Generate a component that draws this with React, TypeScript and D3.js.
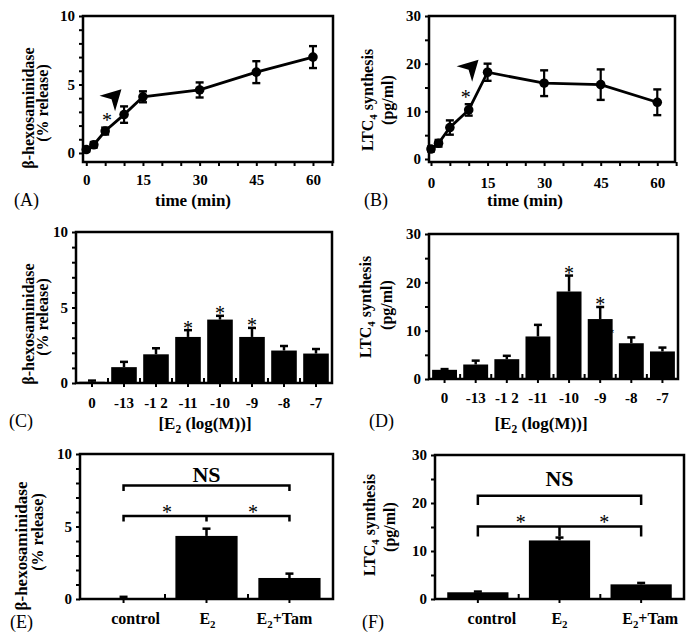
import React, { useEffect, useRef } from "react";
import * as d3 from "d3";

// (A)/(B) time course
const minutes = [0, 2, 5, 10, 15, 30, 45, 60];
const timeLabels = [0, 15, 30, 45, 60];
const hexTime = [0.25, 0.6, 1.6, 2.8, 4.1, 4.6, 5.9, 7.0];
const hexTimeErr = [0.15, 0.2, 0.25, 0.6, 0.4, 0.55, 0.8, 0.8];
const ltcTime = [2.1, 3.3, 6.6, 10.3, 18.2, 15.9, 15.6, 11.9];
const ltcTimeErr = [0.5, 0.7, 1.5, 1.2, 1.8, 2.7, 3.2, 2.7];

// (C)/(D) dose response, log(M)
const doses = ["0", "-13", "-1 2", "-11", "-10", "-9", "-8", "-7"];
const hexDose = [0.08, 1.05, 1.9, 3.05, 4.2, 3.05, 2.15, 1.95];
const hexDoseErr = [0.08, 0.35, 0.4, 0.45, 0.25, 0.6, 0.3, 0.3];
const hexDoseStars = ["-11", "-10", "-9"];
const ltcDose = [1.9, 3.0, 4.1, 8.8, 18.1, 12.4, 7.4, 5.7];
const ltcDoseErr = [0.15, 0.8, 0.7, 2.4, 3.3, 2.5, 1.2, 0.8];
const ltcDoseStars = ["-10", "-9"];

// (E)/(F) tamoxifen
const treatments = ["control", "E2", "E2+Tam"];
const hexTreat = [0.03, 4.35, 1.45];
const hexTreatErr = [0.12, 0.5, 0.3];
const ltcTreat = [1.4, 12.2, 3.05];
const ltcTreatErr = [0.15, 0.6, 0.3];

const FONT = "'Liberation Serif', 'Times New Roman', Times, serif";

type Part = { t: string; sub?: boolean };

function label(g, x, y, parts: Part[], size, opts: any = {}) {
  const rot = !!opts.rotate;
  const tx = rot ? x + size * 0.35 : x;
  const ty = rot ? y : y + size * 0.35;
  const t = g
    .append("text")
    .attr("transform", `translate(${tx},${ty})` + (rot ? " rotate(-90)" : ""))
    .attr("text-anchor", opts.anchor || "middle")
    .attr("font-family", FONT)
    .attr("font-size", size)
    .attr("font-weight", opts.bold === false ? "normal" : "bold")
    .attr("fill", "#000");
  let wasSub = false;
  parts.forEach((p) => {
    const s = t.append("tspan").text(p.t);
    if (p.sub) {
      s.attr("font-size", size * 0.68).attr("dy", size * 0.25);
      wasSub = true;
    } else if (wasSub) {
      s.attr("dy", -size * 0.25);
      wasSub = false;
    }
  });
  return t;
}

function star(g, x, cy, size = 20) {
  g.append("text")
    .attr("x", x)
    .attr("y", cy + size * 0.47)
    .attr("text-anchor", "middle")
    .attr("font-family", FONT)
    .attr("font-size", size)
    .attr("fill", "#000")
    .text("*");
}

function styleAxis(ax, size = 15) {
  ax.select(".domain").remove();
  ax.selectAll("line").attr("stroke", "#000").attr("stroke-width", 2);
  ax.selectAll("text")
    .attr("font-family", FONT)
    .attr("font-weight", "bold")
    .attr("font-size", size)
    .attr("fill", "#000");
}

function yAxis(g, y, x0, minor, major) {
  const top = y.domain()[1];
  const ticks = d3.range(0, top + 1e-6, minor);
  const ax = g
    .append("g")
    .attr("transform", `translate(${x0},0)`)
    .call(
      d3
        .axisLeft(y)
        .tickValues(ticks)
        .tickSize(4)
        .tickPadding(4)
        .tickFormat((d) => (Math.round(d) % major === 0 ? String(d) : ""))
    );
  styleAxis(ax);
}

function frame(g, b) {
  g.append("rect")
    .attr("x", b.x0)
    .attr("y", b.y0)
    .attr("width", b.x1 - b.x0)
    .attr("height", b.y1 - b.y0)
    .attr("fill", "none")
    .attr("stroke", "#000")
    .attr("stroke-width", 2.5);
}

function drawTime(svg, b, xDom, yDom, vals, errs, minor, major, pad, note) {
  const g = svg.append("g");
  const x = d3.scaleLinear().domain(xDom).range([b.x0, b.x1]);
  const y = d3.scaleLinear().domain(yDom).range([b.y1, b.y0]);

  const xa = g
    .append("g")
    .attr("transform", `translate(0,${b.y1})`)
    .call(
      d3
        .axisBottom(x)
        .tickValues(d3.range(0, 66, 5))
        .tickSize(4)
        .tickPadding(pad)
        .tickFormat((d) => (timeLabels.includes(d) ? String(d) : ""))
    );
  styleAxis(xa);
  yAxis(g, y, b.x0, minor, major);

  minutes.forEach((m, i) => {
    const cx = x(m);
    g.append("line")
      .attr("x1", cx).attr("x2", cx)
      .attr("y1", y(vals[i] - errs[i])).attr("y2", y(vals[i] + errs[i]))
      .attr("stroke", "#000").attr("stroke-width", 2.2);
    [vals[i] - errs[i], vals[i] + errs[i]].forEach((v) => {
      g.append("line")
        .attr("x1", cx - 4).attr("x2", cx + 4)
        .attr("y1", y(v)).attr("y2", y(v))
        .attr("stroke", "#000").attr("stroke-width", 2.4);
    });
  });

  const line = d3
    .line<number>()
    .x((d, i) => x(minutes[i]))
    .y((d) => y(d));
  g.append("path")
    .attr("d", line(vals))
    .attr("fill", "none")
    .attr("stroke", "#000")
    .attr("stroke-width", 2.8);
  g.selectAll("circle")
    .data(vals)
    .enter()
    .append("circle")
    .attr("cx", (d, i) => x(minutes[i]))
    .attr("cy", (d) => y(d))
    .attr("r", 4.8)
    .attr("fill", "#000");

  star(g, x(note.star[0]), y(note.star[1]));
  // arrowhead pointing to the up-right
  g.append("path")
    .attr("d", "M0,0 L-20,-11 L-14,0 L-20,11 Z")
    .attr("transform", `translate(${x(note.arrow[0])},${y(note.arrow[1])}) rotate(-45)`)
    .attr("fill", "#000");

  frame(g, b);
  return g;
}

function drawBars(svg, b, cats, vals, errs, yTop, minor, major, pad, pi, po, showLabels) {
  const g = svg.append("g");
  const x = d3.scaleBand().domain(cats).range([b.x0, b.x1]).paddingInner(pi).paddingOuter(po);
  const y = d3.scaleLinear().domain([0, yTop]).range([b.y1, b.y0]);
  const cx = (c) => (x(c) as number) + x.bandwidth() / 2;

  g.selectAll("rect.bar")
    .data(cats)
    .enter()
    .append("rect")
    .attr("x", (d) => x(d))
    .attr("y", (d, i) => y(vals[i]))
    .attr("width", x.bandwidth())
    .attr("height", (d, i) => b.y1 - y(vals[i]))
    .attr("fill", "#000");

  cats.forEach((c, i) => {
    g.append("line")
      .attr("x1", cx(c)).attr("x2", cx(c))
      .attr("y1", y(vals[i])).attr("y2", y(vals[i] + errs[i]))
      .attr("stroke", "#000").attr("stroke-width", 2.5);
    g.append("line")
      .attr("x1", cx(c) - 4).attr("x2", cx(c) + 4)
      .attr("y1", y(vals[i] + errs[i])).attr("y2", y(vals[i] + errs[i]))
      .attr("stroke", "#000").attr("stroke-width", 2.5);
    if (i < cats.length - 1) {
      const bx = (x(c) as number) + x.bandwidth() + (x.step() - x.bandwidth()) / 2;
      g.append("line")
        .attr("x1", bx).attr("x2", bx)
        .attr("y1", b.y1).attr("y2", b.y1 - 5)
        .attr("stroke", "#000").attr("stroke-width", 2);
    }
  });

  const xa = g
    .append("g")
    .attr("transform", `translate(0,${b.y1})`)
    .call(
      d3
        .axisBottom(x)
        .tickSize(4)
        .tickPadding(pad)
        .tickFormat((d) => (showLabels ? d : ""))
    );
  styleAxis(xa);
  yAxis(g, y, b.x0, minor, major);
  frame(g, b);
  return { g, x, y, cx };
}

function treatParts(c) {
  if (c === "control") return [{ t: "control" }];
  if (c === "E2") return [{ t: "E" }, { t: "2", sub: true }];
  return [{ t: "E" }, { t: "2", sub: true }, { t: "+Tam" }];
}

function draw(svg) {
  // (A)
  const gA = drawTime(
    svg,
    { x0: 83, y0: 16, x1: 333, y1: 162 },
    [-0.87, 65.3],
    [-0.66, 10],
    hexTime,
    hexTimeErr,
    1,
    5,
    8,
    { star: [5.5, 2.55], arrow: [9.3, 4.65] }
  );
  label(gA, 28, 108, [{ t: "\u03b2-hexosaminidase" }], 16, { rotate: true });
  label(gA, 42, 103, [{ t: "(%  release)" }], 16, { rotate: true });
  label(gA, 193, 200, [{ t: "time (min)" }], 17);
  label(gA, 14, 200, [{ t: "(A)" }], 18, { anchor: "start", bold: false });

  // (B)
  const gB = drawTime(
    svg,
    { x0: 429, y0: 16, x1: 675, y1: 162 },
    [-0.53, 64.7],
    [-0.63, 30],
    ltcTime,
    ltcTimeErr,
    5,
    10,
    11,
    { star: [9.2, 13.5], arrow: [12.6, 20.8] }
  );
  label(gB, 367, 100, [{ t: "LTC" }, { t: "4", sub: true }, { t: " synthesis" }], 16, { rotate: true });
  label(gB, 387, 100, [{ t: "(pg/ml)" }], 16, { rotate: true });
  label(gB, 525, 200, [{ t: "time (min)" }], 17);
  label(gB, 364, 200, [{ t: "(B)" }], 18, { anchor: "start", bold: false });

  // (C)
  const pC = drawBars(svg, { x0: 76, y0: 232, x1: 332, y1: 383 }, doses, hexDose, hexDoseErr, 10, 1, 5, 10, 0.2, 0.1, true);
  hexDoseStars.forEach((d) => {
    const i = doses.indexOf(d);
    star(pC.g, pC.cx(d), pC.y(hexDose[i] + hexDoseErr[i]) - 5);
  });
  label(pC.g, 28, 324, [{ t: "\u03b2-hexosaminidase" }], 16, { rotate: true });
  label(pC.g, 42, 317, [{ t: "(%  release)" }], 16, { rotate: true });
  label(pC.g, 205, 423, [{ t: "[E" }, { t: "2", sub: true }, { t: " (log(M))]" }], 17);
  label(pC.g, 9, 421, [{ t: "(C)" }], 18, { anchor: "start", bold: false });

  // (D)
  const pD = drawBars(svg, { x0: 429, y0: 234, x1: 678, y1: 379 }, doses, ltcDose, ltcDoseErr, 30, 5, 10, 9, 0.2, 0.1, true);
  ltcDoseStars.forEach((d) => {
    const i = doses.indexOf(d);
    star(pD.g, pD.cx(d), pD.y(ltcDose[i] + ltcDoseErr[i]) - 5);
  });
  star(pD.g, pD.cx("-9") + 11, pD.y(9.8), 12);
  label(pD.g, 365, 307, [{ t: "LTC" }, { t: "4", sub: true }, { t: " synthesis" }], 16, { rotate: true });
  label(pD.g, 386, 305, [{ t: "(pg/ml)" }], 16, { rotate: true });
  label(pD.g, 541, 423, [{ t: "[E" }, { t: "2", sub: true }, { t: " (log(M))]" }], 17);
  label(pD.g, 369, 421, [{ t: "(D)" }], 18, { anchor: "start", bold: false });

  // (E)
  const pE = drawBars(svg, { x0: 80, y0: 454, x1: 333, y1: 599 }, treatments, hexTreat, hexTreatErr, 10, 1, 5, 14, 0.25, 0.15, false);
  const shiftE = [12, 1, -5];
  treatments.forEach((c, i) => label(pE.g, pE.cx(c) + shiftE[i], 618, treatParts(c), 16));
  const [c0, c1, c2] = treatments.map(pE.cx);
  const bracketE = d3.path();
  bracketE.moveTo(c0, pE.y(7.45));
  bracketE.lineTo(c0, pE.y(7.82));
  bracketE.lineTo(c2, pE.y(7.82));
  bracketE.lineTo(c2, pE.y(7.45));
  bracketE.moveTo(c0, pE.y(5.35));
  bracketE.lineTo(c0, pE.y(5.72));
  bracketE.lineTo(c2, pE.y(5.72));
  bracketE.lineTo(c2, pE.y(5.35));
  bracketE.moveTo(c1, pE.y(5.72));
  bracketE.lineTo(c1, pE.y(5.35));
  pE.g.append("path").attr("d", bracketE.toString()).attr("fill", "none").attr("stroke", "#000").attr("stroke-width", 2.5);
  label(pE.g, c1, pE.y(8.6), [{ t: "NS" }], 22);
  star(pE.g, (c0 + c1) / 2 + 2, pE.y(6.2));
  star(pE.g, (c1 + c2) / 2 + 5, pE.y(6.2));
  label(pE.g, 21, 546, [{ t: "\u03b2-hexosaminidase" }], 17, { rotate: true });
  label(pE.g, 37, 532, [{ t: "(%  release)" }], 16, { rotate: true });
  label(pE.g, 10, 622, [{ t: "(E)" }], 18, { anchor: "start", bold: false });

  // (F)
  const pF = drawBars(svg, { x0: 435, y0: 455, x1: 684, y1: 599 }, treatments, ltcTreat, ltcTreatErr, 30, 5, 10, 13, 0.25, 0.15, false);
  const shiftF = [14, 0, 9];
  treatments.forEach((c, i) => label(pF.g, pF.cx(c) + shiftF[i], 618, treatParts(c), 16));
  const [f0, f1, f2] = treatments.map(pF.cx);
  const bracketF = d3.path();
  bracketF.moveTo(f0, pF.y(19.6));
  bracketF.lineTo(f0, pF.y(21.5));
  bracketF.lineTo(f2, pF.y(21.5));
  bracketF.lineTo(f2, pF.y(19.6));
  bracketF.moveTo(f0, pF.y(13.0));
  bracketF.lineTo(f0, pF.y(15.1));
  bracketF.lineTo(f2, pF.y(15.1));
  bracketF.lineTo(f2, pF.y(13.0));
  bracketF.moveTo(f1, pF.y(15.1));
  bracketF.lineTo(f1, pF.y(13.0));
  pF.g.append("path").attr("d", bracketF.toString()).attr("fill", "none").attr("stroke", "#000").attr("stroke-width", 2.5);
  label(pF.g, f1, pF.y(25.2), [{ t: "NS" }], 22);
  star(pF.g, (f0 + f1) / 2 + 2, pF.y(16.5));
  star(pF.g, (f1 + f2) / 2 + 4, pF.y(16.5));
  label(pF.g, 369, 525, [{ t: "LTC" }, { t: "4", sub: true }, { t: " synthesis" }], 16, { rotate: true });
  label(pF.g, 389, 527, [{ t: "(pg/ml)" }], 16, { rotate: true });
  label(pF.g, 362, 622, [{ t: "(F)" }], 18, { anchor: "start", bold: false });
}

export default function App() {
  const ref = useRef<SVGSVGElement>(null);
  useEffect(() => {
    const svg = d3.select(ref.current);
    svg.selectAll("*").remove();
    draw(svg);
  }, []);
  return (
    <svg
      ref={ref}
      width={698}
      height={636}
      style={{ position: "absolute", left: 0, top: 0, background: "#fff" }}
    />
  );
}
